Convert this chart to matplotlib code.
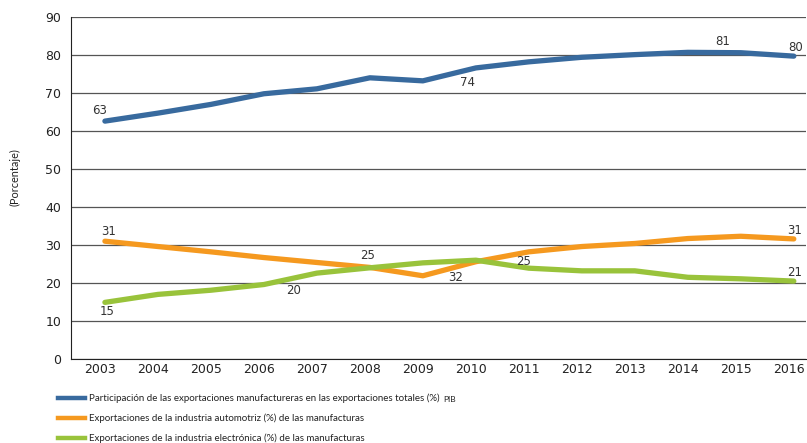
import matplotlib.pyplot as plt
from matplotlib.lines import Line2D
from matplotlib.transforms import ScaledTranslation

# Datos
anios = list(range(2003, 2017))
manuf_total = [62.6, 64.7, 67.0, 69.8, 71.1, 74.0, 73.2, 76.6, 78.2, 79.4, 80.1, 80.7, 80.6, 79.7]
automotriz = [31.0, 29.6, 28.2, 26.7, 25.4, 24.1, 21.9, 25.6, 28.2, 29.6, 30.4, 31.7, 32.3, 31.6]
electronica = [14.9, 17.0, 18.1, 19.6, 22.6, 24.0, 25.3, 26.0, 23.9, 23.2, 23.2, 21.5, 21.1, 20.5]

etiquetas = [
    'Participación de las exportaciones manufactureras en las exportaciones totales (%)',
    'Exportaciones de la industria automotriz (%) de las manufacturas',
    'Exportaciones de la industria electrónica (%) de las manufacturas',
]
colores = ['#386a9e', '#f5991f', '#99c33b']

# (serie, año, texto, dx, dy) en pixeles
rotulos = [
    (0, 2003, '63', -5, 11), (0, 2010, '74', -8, -15), (0, 2015, '81', -18, 11),
    (0, 2016, '80', 2, 9),
    (1, 2003, '31', 4, 10), (1, 2009, '32', 33, -2), (1, 2016, '31', 1, 8),
    (2, 2003, '15', 2, -9), (2, 2006, '20', 30, -6), (2, 2008, '25', -2, 12),
    (2, 2011, '25', -5, 7), (2, 2016, '21', 1, 9),
]

series = [manuf_total, automotriz, electronica]

fig = plt.figure(figsize=(8.07, 4.43), dpi=100)
ax = fig.add_axes([71/807, 1-359/443, 1-71/807-1/807, (359-17)/443])

for s, c in zip(series, colores):
    ax.plot(anios, s, color=c, lw=3.8, solid_capstyle='round', zorder=3)

for i, anio, txt, dx, dy in rotulos:
    ax.annotate(txt, (anio, series[i][anios.index(anio)]), xytext=(dx, dy),
                textcoords='offset pixels', ha='center', va='center',
                fontsize=8.5, color='#333333', zorder=4)

ax.set_xlim(2002.36, 2016.23)
ax.set_ylim(0, 90)
ax.set_yticks(range(0, 91, 10))
ax.set_xticks(anios)
ax.grid(axis='y', color='#555555', lw=0.9)
ax.set_axisbelow(True)
for lado in ['top', 'right']:
    ax.spines[lado].set_visible(False)
ax.spines['left'].set_color('#222222')
ax.spines['bottom'].set_color('#222222')
ax.tick_params(length=0, labelsize=9, colors='#222222')
ax.tick_params(axis='y', pad=7)
ax.tick_params(axis='x', pad=3)
desplazar = ScaledTranslation(-5/100, 0, fig.dpi_scale_trans)
for lbl in ax.get_xticklabels():
    lbl.set_transform(lbl.get_transform() + desplazar)

fig.text(15/807, 1-177/443, '(Porcentaje)', rotation=90, ha='center', va='center',
         fontsize=7.8, family='Lato', color='#222222')

# Leyenda
for k, (lab, c) in enumerate(zip(etiquetas, colores)):
    yy = 1 - (398 + 20*k) / 443
    fig.add_artist(Line2D([58/807, 85/807], [yy, yy], color=c, lw=3.2))
    t = fig.text(89/807, yy, lab, ha='left', va='center', fontsize=7.0,
                 family='Lato', color='#222222')
    if k == 0:
        ax.annotate('PIB', xy=(1, 0), xycoords=t, xytext=(2.5, -0.3),
                    textcoords='offset points', ha='left', va='bottom',
                    fontsize=6.0, family='Lato', color='#222222')

plt.savefig('out.png')
